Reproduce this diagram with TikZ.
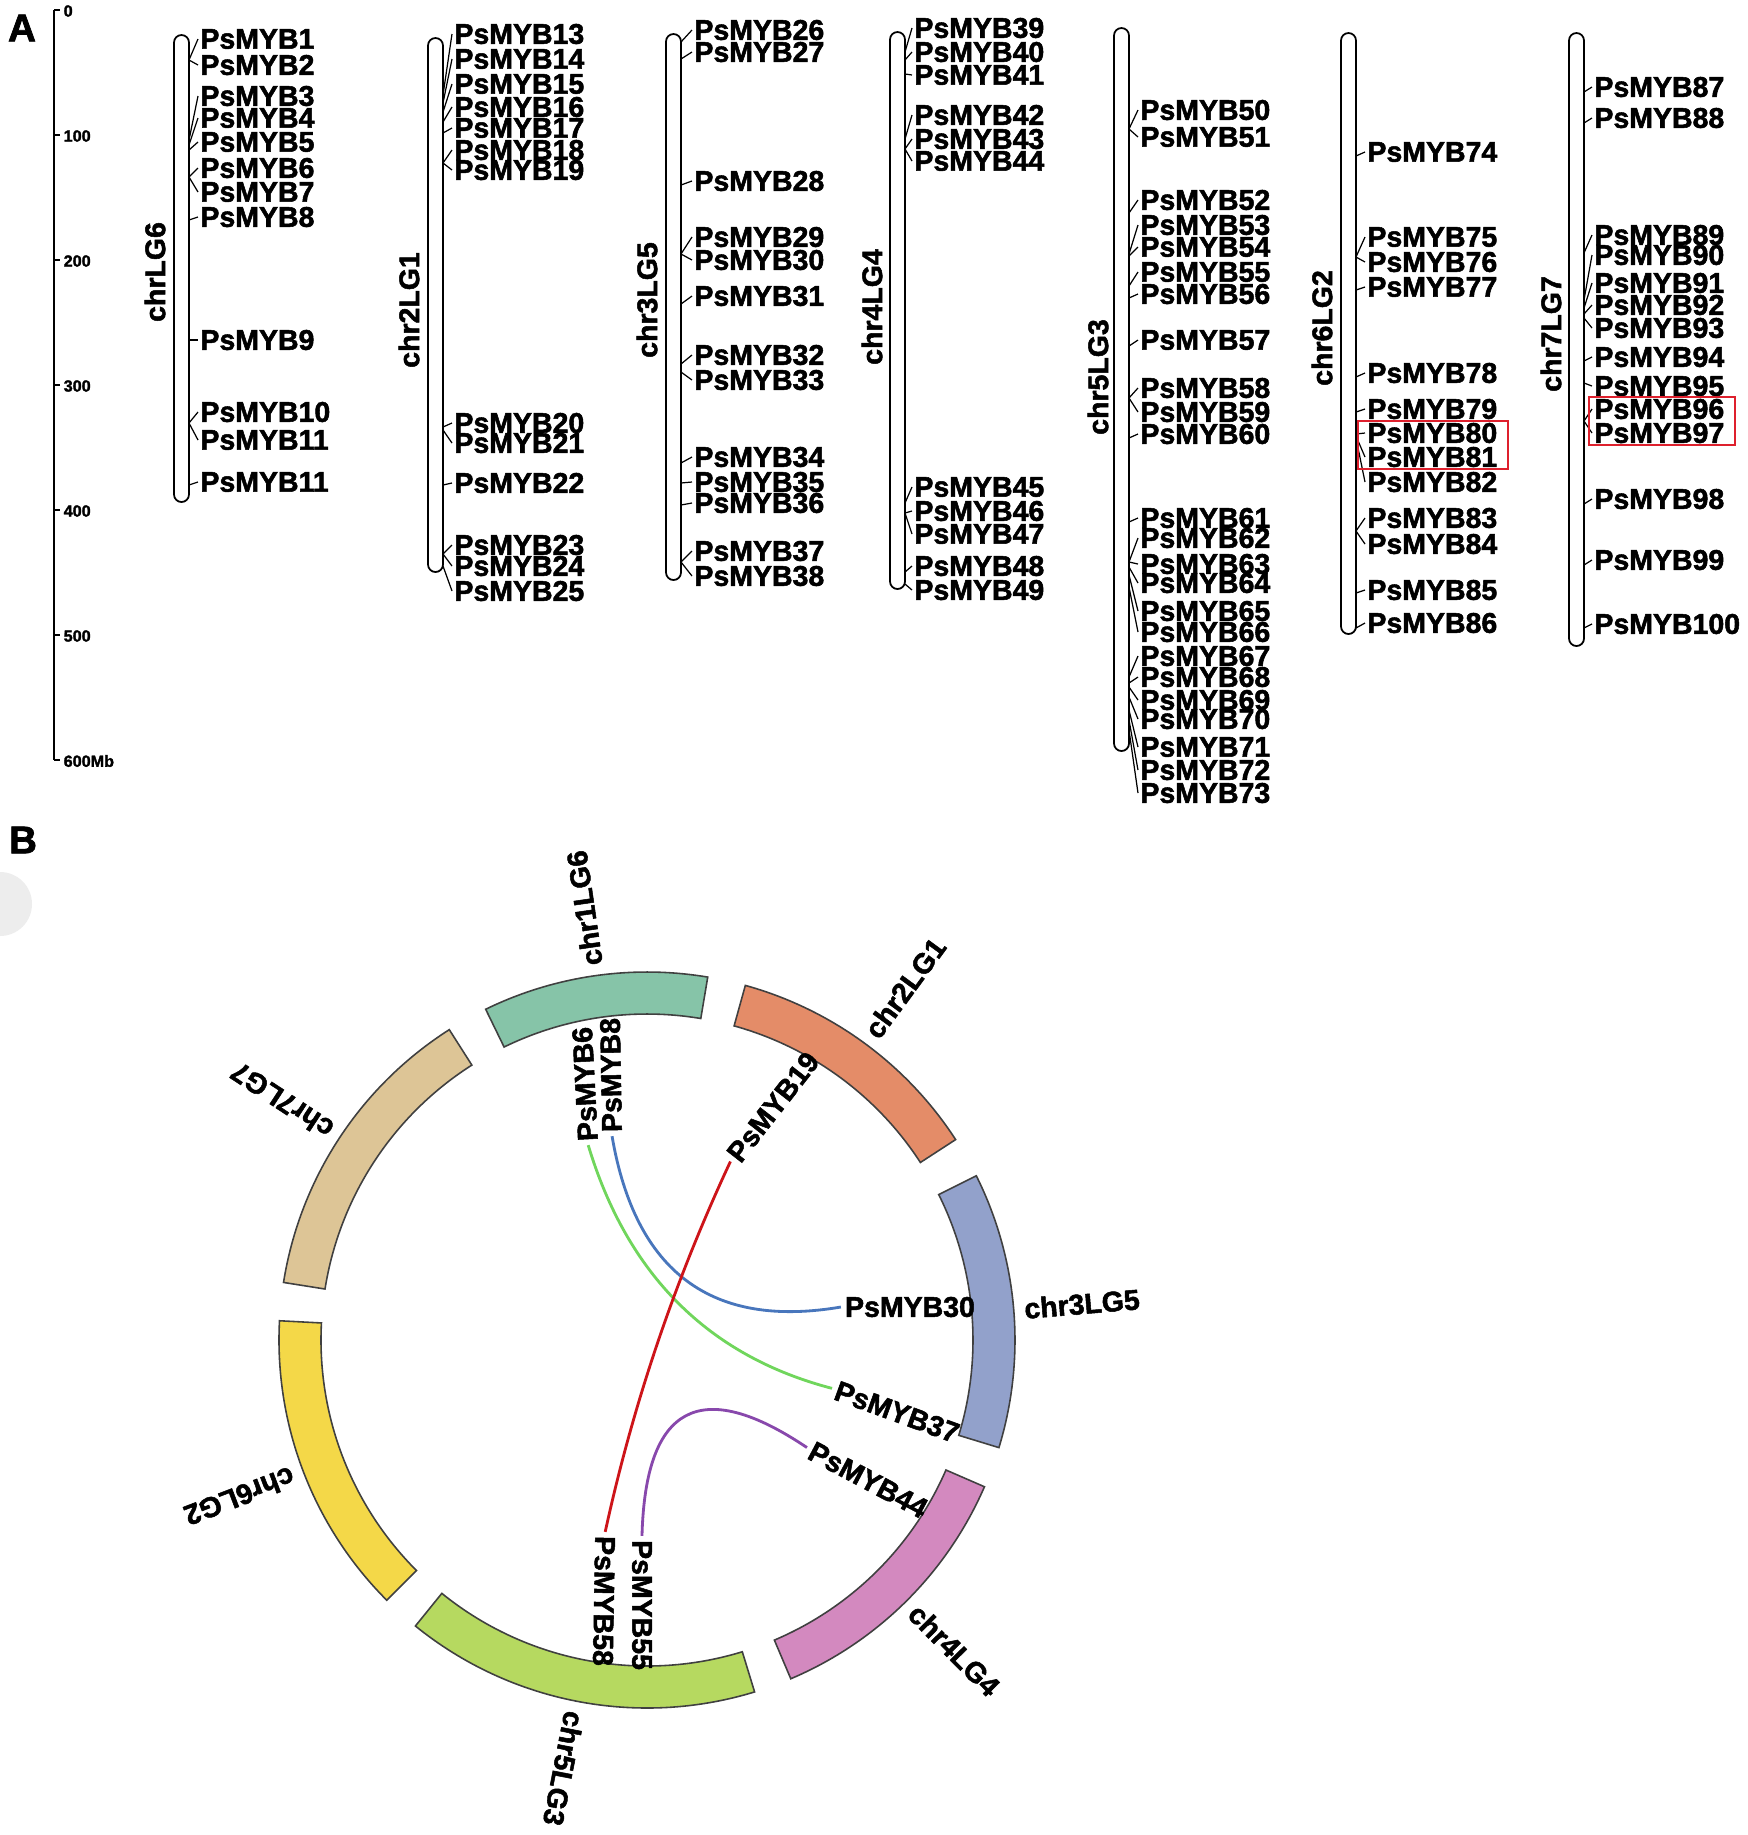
\documentclass[tikz,border=0pt]{standalone}
\usepackage{fontspec}
\setmainfont{Liberation Sans}[BoldFeatures={FakeBold=1.8}]
\usetikzlibrary{calc}

\definecolor{cOne}{RGB}{134,196,168}
\definecolor{cTwo}{RGB}{228,140,104}
\definecolor{cThree}{RGB}{146,161,203}
\definecolor{cFour}{RGB}{211,137,191}
\definecolor{cFive}{RGB}{182,217,96}
\definecolor{cSix}{RGB}{244,216,72}
\definecolor{cSeven}{RGB}{221,197,150}
\definecolor{boxred}{RGB}{222,32,45}
\definecolor{lkred}{RGB}{205,20,25}
\definecolor{lkblue}{RGB}{72,118,188}
\definecolor{lkgreen}{RGB}{112,214,92}
\definecolor{lkpurple}{RGB}{136,72,172}

\begin{document}
\begin{tikzpicture}[x=0.01cm,y=-0.01cm,
  chrbar/.style={draw=black,line width=0.5pt,fill=white,rounded corners=0.075cm},
  gene/.style={anchor=west,inner sep=0.5pt,font=\fontsize{8.1}{9}\selectfont\bfseries},
  chrname/.style={rotate=90,inner sep=0pt,font=\fontsize{8.1}{9}\selectfont\bfseries},
  bchr/.style={anchor=west,inner sep=0pt,font=\fontsize{8.1}{9}\selectfont\bfseries},
  bgene/.style={inner sep=1pt,font=\fontsize{8.1}{9}\selectfont\bfseries},
  conn/.style={line width=0.35pt},
  axlab/.style={anchor=west,inner sep=0pt,font=\fontsize{4.6}{5}\selectfont\bfseries},
  panel/.style={inner sep=0pt,font=\fontsize{11}{13}\selectfont\bfseries},
  seg/.style={draw=black!75,line width=0.45pt},
  lk/.style={line width=0.8pt},
  hlbox/.style={draw=boxred,line width=0.7pt}]
\path[use as bounding box,fill=white] (0,0) rectangle (1748,1835);
\fill[gray!14] (0,936) arc[start angle=90,end angle=-90,radius=32];

\node[panel] (pa) at (22,28) {A};
\node[panel] (pb) at (23,840) {B};

\draw[line width=0.6pt] (54,10) -- (54,760);
\foreach \v/\s in {0/0,1/100,2/200,3/300,4/400,5/500,6/600Mb} {
\draw[line width=0.5pt] (54,10+125*\v) -- (60,10+125*\v);
\node[axlab] (ax\v) at (63,11+125*\v) {\s};
}

\draw[chrbar] (174,35) rectangle (189,502);
\node[chrname] (chrLG6) at (155,272) {chrLG6};
\foreach \n/\ly/\py in {1/39/60,2/65/60,3/96/140,4/118/145,5/142/150,6/168/177,7/192/177,8/217/220,9/340/340,10/412/423,11/440/423} {
\coordinate (p\n) at (189,\py);
\node[gene] (m\n) at (198,\ly) {PsMYB\n};
\draw[conn] (p\n) -- (m\n.west);
}
\coordinate (p12) at (189,485);
\node[gene] (m12) at (198,482) {PsMYB11};
\draw[conn] (p12) -- (m12.west);

\draw[chrbar] (428,38) rectangle (443,572);
\node[chrname] (chr2LG1) at (409,310) {chr2LG1};
\foreach \n/\ly/\py in {13/34/95,14/59/103,15/84/112,16/107/122,17/128/133,18/150/163,19/170/163,20/423/427,21/443/430,22/483/485,23/545/554,24/566/554,25/591/566} {
\coordinate (p\n) at (443,\py);
\node[gene] (m\n) at (452,\ly) {PsMYB\n};
\draw[conn] (p\n) -- (m\n.west);
}

\draw[chrbar] (666,34) rectangle (681,580);
\node[chrname] (chr3LG5) at (647,300) {chr3LG5};
\foreach \n/\ly/\py in {26/30/42,27/52/59,28/181/185,29/237/254,30/260/254,31/296/304,32/355/364,33/380/372,34/457/463,35/482/483,36/503/505,37/551/562,38/576/562} {
\coordinate (p\n) at (681,\py);
\node[gene] (m\n) at (692,\ly) {PsMYB\n};
\draw[conn] (p\n) -- (m\n.west);
}

\draw[chrbar] (890,32) rectangle (905,589);
\node[chrname] (chr4LG4) at (872,307) {chr4LG4};
\foreach \n/\ly/\py in {39/28/52,40/52/60,41/75/74,42/115/139,43/139/149,44/161/149,45/487/503,46/511/513,47/534/513,48/566/572,49/590/584} {
\coordinate (p\n) at (905,\py);
\node[gene] (m\n) at (912,\ly) {PsMYB\n};
\draw[conn] (p\n) -- (m\n.west);
}

\draw[chrbar] (1114,28) rectangle (1129,751);
\node[chrname] (chr5LG3) at (1098,377) {chr5LG3};
\foreach \n/\ly/\py in {50/110/129,51/137/129,52/200/213,53/225/254,54/247/256,55/272/286,56/294/298,57/340/346,58/388/398,59/412/398,60/434/438,61/518/522,62/538/562,63/564/562,64/583/567,65/611/575,66/632/587,67/656/677,68/677/683,69/700/687,70/719/697,71/747/710,72/770/720,73/793/730} {
\coordinate (p\n) at (1129,\py);
\node[gene] (m\n) at (1138,\ly) {PsMYB\n};
\draw[conn] (p\n) -- (m\n.west);
}

\draw[chrbar] (1341,33) rectangle (1356,634);
\node[chrname] (chr6LG2) at (1322,328) {chr6LG2};
\foreach \n/\ly/\py in {74/152/156,75/237/257,76/262/257,77/287/290,78/373/377,79/409/412,80/433/434,81/457/436,82/482/438,83/518/531,84/544/531,85/590/593,86/623/628} {
\coordinate (p\n) at (1356,\py);
\node[gene] (m\n) at (1365,\ly) {PsMYB\n};
\draw[conn] (p\n) -- (m\n.west);
}

\draw[chrbar] (1569,33) rectangle (1584,646);
\node[chrname] (chr7LG7) at (1551,334) {chr7LG7};
\foreach \n/\ly/\py in {87/87/92,88/118/123,89/235/253,90/255/300,91/283/308,92/305/314,93/328/318,94/357/361,95/386/383,96/409/421,97/433/421,98/499/504,99/560/565,100/624/628} {
\coordinate (p\n) at (1584,\py);
\node[gene] (m\n) at (1592,\ly) {PsMYB\n};
\draw[conn] (p\n) -- (m\n.west);
}

\draw[hlbox] (1358,421) rectangle (1508,469);
\draw[hlbox] (1589,397) rectangle (1735,445);

% circle plot
\coordinate (ctr) at (647,1340);
\begin{scope}[shift={(647,1340)},yscale=-1]
\foreach \a/\b/\c/\t in {80.5/116/cOne/chr1LG6,33/74.5/cTwo/chr2LG1,-17/26.5/cThree/chr3LG5,-67/-23.5/cFour/chr4LG4,-129/-73/cFive/chr5LG3,177/225/cSix/chr6LG2,122.5/171/cSeven/chr7LG7} {
\draw[seg,fill=\c] (\a:326) arc[start angle=\a,end angle=\b,radius=326] -- (\b:368) arc[start angle=\b,end angle=\a,radius=368] -- cycle;
\pgfmathsetmacro\m{(\a+\b)/2}
\node[bchr,rotate=\m] (ring-\t) at (\m:378) {\t};
}
\end{scope}

\node[bgene,rotate=93] (g6) at (585,1084) {PsMYB6};
\node[bgene,rotate=91] (g8) at (611,1075) {PsMYB8};
\node[bgene,rotate=52] (g19) at (773,1107) {PsMYB19};
\node[bgene] (g30) at (910,1307) {PsMYB30};
\node[bgene,rotate=-20] (g37) at (897,1412) {PsMYB37};
\node[bgene,rotate=-28] (g44) at (868,1480) {PsMYB44};
\node[bgene,rotate=-91] (g58) at (604,1601) {PsMYB58};
\node[bgene,rotate=-90] (g55) at (642,1605) {PsMYB55};

\draw[lk,lkgreen] (g6.west) .. controls ($(g6.west)!0.667!(ctr)$) and ($(g37.west)!0.667!(ctr)$) .. (g37.west);
\draw[lk,lkblue] (g8.west) .. controls ($(g8.west)!0.667!(ctr)$) and ($(g30.west)!0.667!(ctr)$) .. (g30.west);
\draw[lk,lkred] (g19.west) .. controls ($(g19.west)!0.667!(ctr)$) and ($(g58.west)!0.667!(ctr)$) .. (g58.west);
\draw[lk,lkpurple] (g55.west) .. controls ($(g55.west)!0.667!(ctr)$) and ($(g44.west)!0.667!(ctr)$) .. (g44.west);

\end{tikzpicture}
\end{document}
